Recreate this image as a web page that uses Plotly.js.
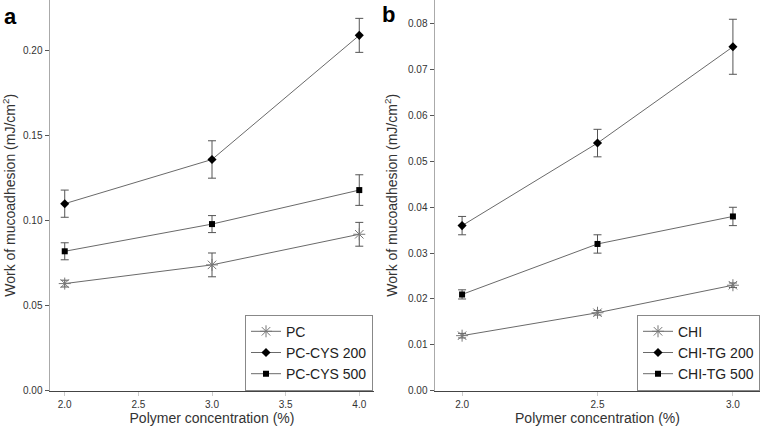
<!DOCTYPE html>
<html>
<head>
<meta charset="utf-8">
<script src="https://cdn.plot.ly/plotly-3.0.1.min.js"></script>
<style>html,body{margin:0;padding:0;background:#fff;}#chart{width:761px;height:427px;}</style>
</head>
<body>
<div id="chart"></div>
<script>
// Panel a data
var concA = [2.0, 3.0, 4.0];
var pc = [0.063, 0.074, 0.092];
var pcErr = [0.002, 0.007, 0.007];
var pcCys200 = [0.110, 0.136, 0.209];
var pcCys200Err = [0.008, 0.011, 0.010];
var pcCys500 = [0.082, 0.098, 0.118];
var pcCys500Err = [0.005, 0.005, 0.009];
var namesA = ["PC", "PC-CYS 200", "PC-CYS 500"];

// Panel b data
var concB = [2.0, 2.5, 3.0];
var chi = [0.012, 0.017, 0.023];
var chiErr = [0.0005, 0.0005, 0.0005];
var chiTg200 = [0.036, 0.054, 0.075];
var chiTg200Err = [0.002, 0.003, 0.006];
var chiTg500 = [0.021, 0.032, 0.038];
var chiTg500Err = [0.001, 0.002, 0.002];
var namesB = ["CHI", "CHI-TG 200", "CHI-TG 500"];

var FONT = "Liberation Sans, Arial, sans-serif";
var lineStyle = {color: "#6a6a6a", width: 1};
function err(arr) {
  return {type: "data", array: arr, visible: true, color: "#555", thickness: 1, width: 4};
}
var mkStar = {symbol: "asterisk-open", size: 10, color: "#777", line: {color: "#777", width: 1}};
var mkDia = {symbol: "diamond", size: 7, color: "#000"};
var mkSq = {symbol: "square", size: 6, color: "#000"};

function tr(x, y, e, name, mk, xa, ya, lg) {
  return {x: x, y: y, name: name, type: "scatter", mode: "lines+markers",
    line: lineStyle, marker: mk, error_y: err(e), xaxis: xa, yaxis: ya, legend: lg};
}

var data = [
  tr(concA, pc, pcErr, namesA[0], mkStar, "x", "y", "legend"),
  tr(concA, pcCys200, pcCys200Err, namesA[1], mkDia, "x", "y", "legend"),
  tr(concA, pcCys500, pcCys500Err, namesA[2], mkSq, "x", "y", "legend"),
  tr(concB, chi, chiErr, namesB[0], mkStar, "x2", "y2", "legend2"),
  tr(concB, chiTg200, chiTg200Err, namesB[1], mkDia, "x2", "y2", "legend2"),
  tr(concB, chiTg500, chiTg500Err, namesB[2], mkSq, "x2", "y2", "legend2")
];

var yTitle = "Work of mucoadhesion (mJ/cm<sup>2</sup>)";
var xTitle = "Polymer concentration (%)";
var tickFont = {family: FONT, size: 10, color: "#333"};
var titleFont = {family: FONT, size: 14, color: "#333"};

function xAxis(domain, range, anchor) {
  return {domain: domain, range: range, anchor: anchor, dtick: 0.5, tick0: 0, tickformat: ".1f",
    showline: true, linecolor: "#444", linewidth: 1, ticks: "outside", ticklen: 4, tickcolor: "#ccc",
    showgrid: false, zeroline: false, tickfont: tickFont,
    title: {text: xTitle, font: titleFont, standoff: 4}};
}
function yAxis(domain, range, dtick, fmt, anchor) {
  return {domain: domain, range: range, anchor: anchor, dtick: dtick, tick0: 0, tickformat: fmt,
    showline: true, linecolor: "#aaa", linewidth: 1.5, ticks: "outside", ticklen: 4, tickcolor: "#555",
    showgrid: false, zeroline: false, tickfont: tickFont,
    title: {text: yTitle, font: titleFont, standoff: 7}};
}

var legendBase = {bordercolor: "#888", borderwidth: 1, bgcolor: "#fff",
  font: {family: FONT, size: 14, color: "#222"}, xanchor: "right", yanchor: "bottom",
  tracegroupgap: 0, itemwidth: 30};

var layout = {
  width: 761, height: 427, autosize: false,
  margin: {l: 0, r: 0, t: 0, b: 0},
  paper_bgcolor: "#fff", plot_bgcolor: "#fff",
  font: {family: FONT},
  xaxis: xAxis([50/761, 374/761], [1.9, 4.1], "y"),
  yaxis: yAxis([1 - 390.7/427, 1], [0, 0.2298], 0.05, ".2f", "x"),
  xaxis2: xAxis([435/761, 760/761], [1.9, 3.1], "y2"),
  yaxis2: yAxis([1 - 390.7/427, 1], [0, 0.0852], 0.01, ".2f", "x2"),
  legend: Object.assign({}, legendBase, {x: 373/761, y: 1 - 390.7/427}),
  legend2: Object.assign({}, legendBase, {x: 760/761, y: 1 - 390.7/427}),
  annotations: [
    {text: "<b>a</b>", xref: "paper", yref: "paper", x: 2/761, y: 1 - 2/427, xanchor: "left", yanchor: "top",
     showarrow: false, font: {family: FONT, size: 22, color: "#000"}},
    {text: "<b>b</b>", xref: "paper", yref: "paper", x: 380/761, y: 1 - 0/427, xanchor: "left", yanchor: "top",
     showarrow: false, font: {family: FONT, size: 22, color: "#000"}}
  ],
  showlegend: true
};

Plotly.newPlot("chart", data, layout, {displayModeBar: false, staticPlot: true});
</script>
</body>
</html>
